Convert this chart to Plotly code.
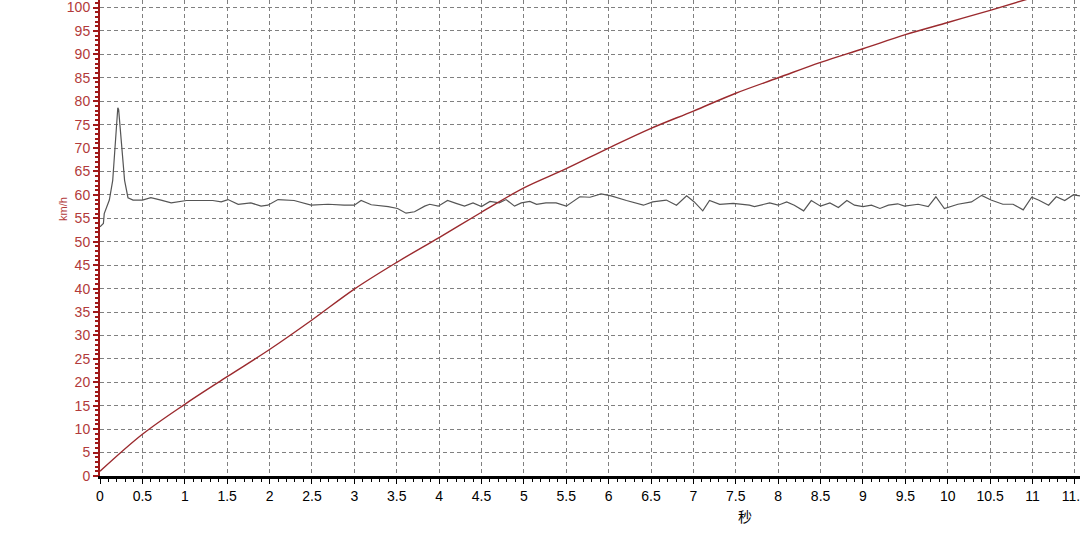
import plotly.graph_objects as go

# speed curve (red), km/h over seconds
t_speed = [0, 0.5, 1, 1.5, 2, 2.5, 3, 3.5, 4, 4.5, 5, 5.5, 6, 6.5, 7, 7.5,
           8, 8.5, 9, 9.5, 10, 10.5, 11]
speed = [1.0, 8.9, 15.3, 21.2, 27.0, 33.3, 39.9, 45.6, 50.9, 56.3, 61.5, 65.6,
         70.0, 74.2, 77.9, 81.7, 85.0, 88.3, 91.2, 94.2, 96.8, 99.4, 102.1]

# second trace (grey)
t_grey = [0, 0.04, 0.05, 0.11, 0.15, 0.18, 0.21, 0.22, 0.25, 0.29, 0.33, 0.39,
          0.5, 0.6, 0.72, 0.84, 1.02, 1.23, 1.33, 1.43, 1.51, 1.63, 1.78, 1.9,
          1.98, 2.1, 2.29, 2.49, 2.69, 2.88, 3.0, 3.08, 3.2, 3.4, 3.51, 3.61,
          3.71, 3.83, 3.89, 3.99, 4.1, 4.2, 4.3, 4.4, 4.5, 4.6, 4.71, 4.79,
          4.89, 4.97, 5.07, 5.15, 5.26, 5.38, 5.5, 5.66, 5.78, 5.91, 6.03,
          6.21, 6.41, 6.52, 6.68, 6.8, 6.92, 7.01, 7.11, 7.19, 7.31, 7.47,
          7.56, 7.66, 7.72, 7.9, 8.0, 8.1, 8.19, 8.3, 8.39, 8.5, 8.61, 8.71,
          8.81, 8.9, 9.0, 9.1, 9.2, 9.3, 9.41, 9.49, 9.65, 9.77, 9.86, 9.96,
          10.12, 10.28, 10.4, 10.51, 10.65, 10.77, 10.89, 10.99, 11.07, 11.19,
          11.28, 11.38, 11.48, 11.56]
grey = [53.2, 53.9, 56.0, 58.9, 63.1, 71.6, 78.6, 78.2, 71.0, 63.1, 59.4, 58.9,
        58.9, 59.4, 58.9, 58.3, 58.8, 58.8, 58.8, 58.5, 59.0, 58.0, 58.3, 57.6,
        57.8, 59.0, 58.8, 57.8, 58.0, 57.8, 57.8, 58.8, 57.9, 57.5, 57.1, 56.1,
        56.4, 57.6, 58.0, 57.6, 58.8, 58.2, 57.6, 58.3, 57.5, 58.6, 58.3, 59.0,
        57.6, 58.3, 58.6, 58.0, 58.3, 58.3, 57.6, 59.6, 59.5, 60.2, 59.8,
        58.8, 57.8, 58.5, 58.9, 57.8, 59.8, 58.5, 56.6, 58.8, 58.0, 58.2,
        58.0, 57.8, 57.5, 58.3, 57.8, 58.5, 57.8, 56.6, 58.8, 57.6, 58.3, 57.3,
        58.8, 57.8, 57.5, 57.8, 57.1, 57.8, 58.1, 57.6, 58.0, 57.5, 59.6, 57.1,
        58.0, 58.5, 59.9, 58.9, 58.0, 58.0, 56.8, 59.5, 58.9, 57.8,
        59.6, 58.8, 60.0, 59.8]

y_ticks = list(range(0, 101, 5))
x_ticks = [i * 0.5 for i in range(24)]
x_labels = [f"{v:g}" for v in x_ticks]

red_txt = '#b23a3a'
grid = dict(showgrid=True, gridcolor='#808080', gridwidth=1, griddash='4px,3px')

fig = go.Figure()

fig.add_trace(go.Scatter(x=t_grey, y=grey, mode='lines',
                         line=dict(color='#555555', width=1.2),
                         showlegend=False, hoverinfo='skip'))
fig.add_trace(go.Scatter(x=t_speed, y=speed, mode='lines',
                         line=dict(color='#9b2a2e', width=1.4, shape='spline'),
                         showlegend=False, hoverinfo='skip'))

fig.update_layout(
    width=1080, height=534,
    margin=dict(l=100, r=0, t=0, b=58),
    plot_bgcolor='white', paper_bgcolor='white',
    font=dict(family='Liberation Sans, Arial, sans-serif', size=14, color='black'),
    xaxis=dict(
        range=[0, 11.56], tickmode='array', tickvals=x_ticks, ticktext=x_labels,
        automargin=False, ticklabeloverflow='allow',
        showline=True, linecolor='black', linewidth=3,
        ticks='outside', ticklen=5, tickcolor='black', tickwidth=1,
        minor=dict(dtick=0.1, ticks='outside', ticklen=3, tickcolor='black',
                   showgrid=False),
        zeroline=False, tickfont=dict(size=14, color='black'),
        **grid
    ),
    yaxis=dict(
        range=[0, 101.6], tickmode='array', tickvals=y_ticks,
        automargin=False, ticklabeloverflow='allow',
        showline=True, linecolor='#a01818', linewidth=2,
        ticks='outside', ticklen=5, tickcolor='#a01818', tickwidth=1.5,
        minor=dict(dtick=1, ticks='outside', ticklen=3, tickcolor='#a01818',
                   showgrid=False),
        zeroline=False, tickfont=dict(size=14, color=red_txt),
        **grid
    ),
)

# axis titles as annotations so they sit where the original has them
fig.add_annotation(xref='paper', yref='paper', x=0.658, y=0, yshift=-40,
                   text='秒', showarrow=False, yanchor='middle',
                   font=dict(size=14, color='black',
                             family='Noto Sans CJK SC, sans-serif'))
fig.add_annotation(xref='paper', yref='y', x=0, y=57, xshift=-45,
                   text='km/h', textangle=-90, showarrow=False,
                   font=dict(size=11, color=red_txt))

# drop the default 8px page margin so the chart fills the window
fig.write_html("out.html", config={'displayModeBar': False},
               post_script="document.body.style.margin='0';")
